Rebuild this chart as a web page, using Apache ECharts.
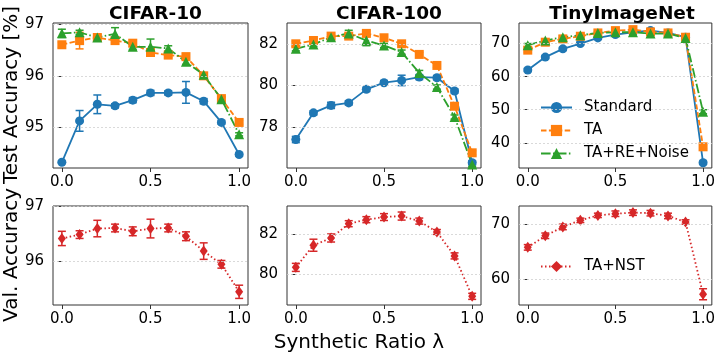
<!DOCTYPE html>
<html><head><meta charset="utf-8">
<script src="https://cdn.jsdelivr.net/npm/echarts@6/dist/echarts.min.js"></script>
<style>html,body{margin:0;padding:0;background:#fff}#c{width:718px;height:356px}</style>
</head><body><div id="c"></div>
<script>
const lambdas = [0.0,0.1,0.2,0.3,0.4,0.5,0.6,0.7,0.8,0.9,1.0];
const xTicks = [0.0,0.5,1.0];
const titles = ['CIFAR-10','CIFAR-100','TinyImageNet'];
const seriesNames = ['Standard','TA','TA+RE+Noise','TA+NST'];

const c10Std    = [94.33,95.13,95.45,95.42,95.53,95.67,95.67,95.68,95.51,95.10,94.48];
const c10StdErr = [0.02,0.20,0.18,0.04,0.05,0.05,0.04,0.21,0.05,0.03,0.03];
const c10TA     = [96.60,96.68,96.74,96.68,96.63,96.45,96.40,96.37,96.00,95.56,95.10];
const c10TAErr  = [0.05,0.16,0.06,0.05,0.06,0.05,0.04,0.06,0.04,0.04,0.04];
const c10RE     = [96.82,96.84,96.74,96.81,96.56,96.56,96.53,96.27,96.02,95.55,94.87];
const c10REErr  = [0.08,0.04,0.05,0.12,0.05,0.15,0.05,0.05,0.04,0.04,0.03];

const c100Std    = [77.40,78.68,79.04,79.16,79.81,80.13,80.24,80.40,80.37,79.73,76.28];
const c100StdErr = [0.15,0.10,0.15,0.10,0.10,0.10,0.25,0.12,0.10,0.10,0.10];
const c100TA     = [82.00,82.16,82.37,82.37,82.50,82.29,82.00,81.49,80.96,79.00,76.76];
const c100TAErr  = [0.12,0.10,0.10,0.12,0.12,0.10,0.10,0.10,0.10,0.10,0.10];
const c100RE     = [81.76,81.97,82.32,82.50,82.16,81.92,81.60,80.60,79.92,78.48,76.20];
const c100REErr  = [0.10,0.10,0.10,0.15,0.25,0.10,0.10,0.12,0.10,0.10,0.10];

const tinStd    = [62.0,65.9,68.4,70.0,71.7,72.7,73.4,73.9,73.2,71.9,34.0];
const tinStdErr = [0.5,0.5,0.5,0.4,0.4,0.4,0.4,0.4,0.4,0.4,0.5];
const tinTA     = [68.0,70.4,71.4,72.2,73.2,73.9,74.2,73.5,73.2,71.9,38.8];
const tinTAErr  = [0.6,0.5,0.5,0.4,0.4,0.4,0.4,0.4,0.4,0.4,0.6];
const tinRE     = [69.5,70.9,71.9,72.5,73.2,73.4,73.4,73.0,73.0,71.7,49.4];
const tinREErr  = [0.5,0.5,0.4,0.4,0.4,0.4,0.4,0.4,0.4,0.4,0.6];

const nstC10     = [96.42,96.49,96.60,96.61,96.55,96.60,96.61,96.46,96.19,95.95,95.45];
const nstC10Err  = [0.13,0.07,0.15,0.07,0.08,0.17,0.07,0.08,0.15,0.07,0.12];
const nstC100    = [80.34,81.44,81.80,82.51,82.71,82.84,82.89,82.64,82.10,80.91,78.90];
const nstC100Err = [0.20,0.30,0.20,0.15,0.15,0.17,0.20,0.15,0.12,0.15,0.15];
const nstTin     = [65.8,67.9,69.5,70.7,71.6,71.9,72.1,72.0,71.5,70.4,57.3];
const nstTinErr  = [0.5,0.5,0.5,0.4,0.4,0.5,0.5,0.5,0.5,0.4,1.0];

const yTicksTop = [[95,96,97],[78,80,82],[40,50,60,70]];
const yTicksBot = [[96,97],[80,82],[60,70]];

// ---- layout / style ----
const FONT = 'DejaVu Sans';
const colors = {Standard:'#1f77b4', TA:'#ff7f0e', 'TA+RE+Noise':'#2ca02c', 'TA+NST':'#d62728'};
const symbols = {Standard:['circle',9], TA:['rect',9], 'TA+RE+Noise':['triangle',10], 'TA+NST':['diamond',[8,11]]};
const dashes = {Standard:'solid', TA:[5.5,2.4], 'TA+RE+Noise':[9.6,2.4,1.5,2.4], 'TA+NST':[1.5,2.5]};
const colLeft = [53,287,519], colWidth = [195,194,196];
const rowTop = [23,206], rowHeight = [145,99];
const yRangeTop = [[94.22,97.02],[76.03,83.0],[32.4,76.2]];
const yRangeBot = [[95.21,97.01],[78.47,83.39],[55.35,73.3]];

const topData = [[c10Std,c10StdErr,c10TA,c10TAErr,c10RE,c10REErr],
                 [c100Std,c100StdErr,c100TA,c100TAErr,c100RE,c100REErr],
                 [tinStd,tinStdErr,tinTA,tinTAErr,tinRE,tinREErr]];
const botData = [[nstC10,nstC10Err],[nstC100,nstC100Err],[nstTin,nstTinErr]];

const grids=[], xAxes=[], yAxes=[], series=[], titleOpts=[];
function fmtX(v){return v.toFixed(1);}
function addPanel(idx,row,col,range,ticks){
  grids.push({left:colLeft[col], top:rowTop[row], width:colWidth[col], height:rowHeight[row],
    show:true, borderColor:'#333', borderWidth:1, containLabel:false});
  xAxes.push({type:'value', gridIndex:idx, min:-0.05, max:1.05,
    axisLine:{show:false}, splitLine:{show:false},
    axisTick:{show:true, customValues:xTicks, length:4, lineStyle:{color:'#333'}},
    axisLabel:{customValues:xTicks, formatter:fmtX, fontFamily:FONT, fontSize:15, color:'#000', margin:7}});
  yAxes.push({type:'value', gridIndex:idx, min:range[0], max:range[1],
    axisLine:{show:false}, splitLine:{show:false},
    axisTick:{show:true, customValues:ticks, length:4, lineStyle:{color:'#333'}},
    axisLabel:{customValues:ticks, fontFamily:FONT, fontSize:15, color:'#000', margin:9}});
  series.push({type:'line', name:'grid'+idx, xAxisIndex:idx, yAxisIndex:idx, data:[], z:0, silent:true,
    markLine:{silent:true, symbol:'none', label:{show:false}, animation:false,
      lineStyle:{color:'#d0d0d0', type:[2,2], width:0.8},
      data:ticks.map(t=>({yAxis:t}))}});
}
function errSeries(idx,name,vals,errs){
  const col = colors[name];
  series.push({type:'custom', name:'err-'+name+idx, xAxisIndex:idx, yAxisIndex:idx,
    data:lambdas.map((x,i)=>[x,vals[i],errs[i]]), encode:{x:0,y:1}, z:2, silent:true,
    renderItem:function(params,api){
      const x=api.value(0), y=api.value(1), e=api.value(2);
      const t=api.coord([x,y+e]), b=api.coord([x,y-e]);
      const hw=4, st={stroke:col, lineWidth:1.5};
      return {type:'group', children:[
        {type:'line', shape:{x1:t[0],y1:t[1],x2:b[0],y2:b[1]}, style:st},
        {type:'line', shape:{x1:t[0]-hw,y1:t[1],x2:t[0]+hw,y2:t[1]}, style:st},
        {type:'line', shape:{x1:b[0]-hw,y1:b[1],x2:b[0]+hw,y2:b[1]}, style:st}]};
    }});
}
function lineSeries(idx,name,vals){
  series.push({type:'line', name:name, xAxisIndex:idx, yAxisIndex:idx,
    data:lambdas.map((x,i)=>[x,vals[i]]), symbol:symbols[name][0], symbolSize:symbols[name][1],
    showSymbol:true, z:3,
    itemStyle:{color:colors[name]}, lineStyle:{color:colors[name], width:1.8, type:dashes[name]}});
}
for(let c=0;c<3;c++){
  addPanel(c,0,c,yRangeTop[c],yTicksTop[c]);
  const d=topData[c];
  for(let s=0;s<3;s++){ errSeries(c,seriesNames[s],d[2*s],d[2*s+1]); lineSeries(c,seriesNames[s],d[2*s]); }
  titleOpts.push({text:titles[c], left:colLeft[c]+colWidth[c]/2, top:0, textAlign:'center',
    textStyle:{fontFamily:FONT, fontSize:18.5, fontWeight:'bold', color:'#000'}});
}
for(let c=0;c<3;c++){
  const idx=3+c;
  addPanel(idx,1,c,yRangeBot[c],yTicksBot[c]);
  errSeries(idx,'TA+NST',botData[c][0],botData[c][1]); lineSeries(idx,'TA+NST',botData[c][0]);
}
const chart = echarts.init(document.getElementById('c'),null,{renderer:'canvas'});
chart.setOption({
  animation:false, backgroundColor:'#fff',
  title:titleOpts,
  grid:grids, xAxis:xAxes, yAxis:yAxes, series:series,
  legend:[
    {data:['Standard','TA','TA+RE+Noise'], orient:'vertical', left:540, top:100, padding:0,
     itemWidth:31, itemHeight:14, itemGap:8, selectedMode:false,
     textStyle:{fontFamily:FONT, fontSize:15, color:'#000', padding:[0,0,0,7]}},
    {data:['TA+NST'], orient:'vertical', left:540, top:259, padding:0,
     itemWidth:31, itemHeight:14, selectedMode:false,
     textStyle:{fontFamily:FONT, fontSize:15, color:'#000', padding:[0,0,0,7]}}
  ],
  graphic:[
    {type:'text', left:'center', top:333, style:{text:'Synthetic Ratio λ', font:'20px "DejaVu Sans"', fill:'#000'}},
    {type:'text', x:2, y:95, rotation:Math.PI/2, style:{text:'Test Accuracy [%]', font:'20px "DejaVu Sans"', fill:'#000', align:'center', verticalAlign:'top'}},
    {type:'text', x:2, y:255, rotation:Math.PI/2, style:{text:'Val. Accuracy', font:'20px "DejaVu Sans"', fill:'#000', align:'center', verticalAlign:'top'}}
  ]
});
</script></body></html>
